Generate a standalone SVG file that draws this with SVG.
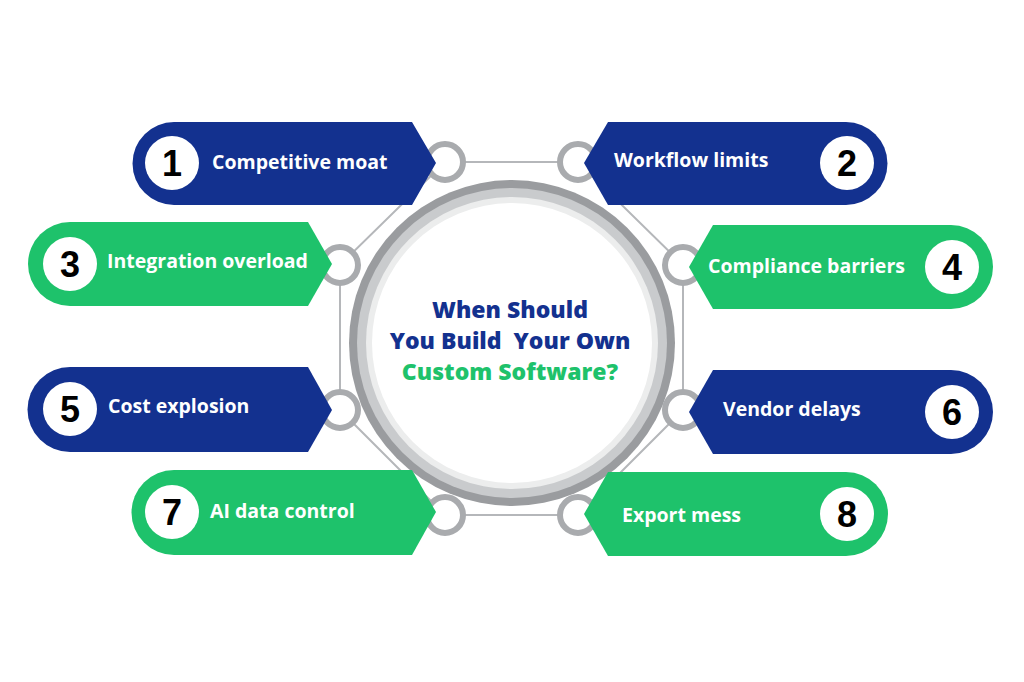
<svg xmlns="http://www.w3.org/2000/svg" width="1024" height="682" viewBox="0 0 1024 682">
<style>
.b{fill:#13318f}.g{fill:#1ec26b}
.lbl{font-family:"Open Sans","Liberation Sans",sans-serif;font-weight:700;font-size:19.5px;fill:#fff}
.num{font-family:"Liberation Sans",sans-serif;font-weight:700;font-size:36px;fill:#000;text-anchor:middle}
.nc{fill:#fff}
.knob{fill:#fff;stroke:#a9abae;stroke-width:6}
.ln{stroke:#b5b7ba;stroke-width:2;fill:none}
.t{font-family:"Open Sans","Liberation Sans",sans-serif;font-weight:800;font-size:23px;text-anchor:middle;white-space:pre}
</style>
<rect width="1024" height="682" fill="#fff"/>
<g id="connectors">
<polygon class="ln" points="445,162 578,162 683,265 683,410 578,515 445,515 340,410 340,265"/>
</g>
<g id="center">
<circle cx="512" cy="343" r="163" fill="#9a9c9f"/>
<circle cx="512" cy="343" r="155" fill="#c9cbcd"/>
<circle cx="512" cy="343" r="146" fill="#eceded"/>
<circle cx="512" cy="343" r="140" fill="#fff"/>
<text class="t" x="510" y="318" fill="#13318f">When Should</text>
<text class="t" x="510" y="349" fill="#13318f" xml:space="preserve">You Build  Your Own</text>
<text class="t" x="510" y="380" fill="#1ec26b">Custom Software?</text>
</g>
<g id="knobs">
<circle class="knob" cx="445" cy="162" r="18"/><circle class="knob" cx="578" cy="162" r="18"/>
<circle class="knob" cx="340" cy="265" r="18"/><circle class="knob" cx="683" cy="265" r="18"/>
<circle class="knob" cx="340" cy="410" r="18"/><circle class="knob" cx="683" cy="410" r="18"/>
<circle class="knob" cx="445" cy="515" r="18"/><circle class="knob" cx="578" cy="515" r="18"/>
</g>
<g id="n1"><path class="b" d="M174,122 H412 L436,163 L412,205 H174 A41.5,41.5 0 0 1 174,122 Z"/><circle class="nc" cx="172" cy="163" r="27"/><text class="num" x="172" y="176">1</text><text class="lbl" x="212" y="169">Competitive moat</text></g>
<g id="n2"><path class="b" d="M846,122 H608 L584,163 L608,205 H846 A41.5,41.5 0 0 0 846,122 Z"/><circle class="nc" cx="847" cy="163" r="27"/><text class="num" x="847" y="176">2</text><text class="lbl" x="614" y="167">Workflow limits</text></g>
<g id="n3"><path class="g" d="M70,222 H308 L332,264 L308,306 H70 A42,42 0 0 1 70,222 Z"/><circle class="nc" cx="70" cy="264" r="27"/><text class="num" x="70" y="277">3</text><text class="lbl" x="107" y="268">Integration overload</text></g>
<g id="n4"><path class="g" d="M951,225 H713 L689,267 L713,309 H951 A42,42 0 0 0 951,225 Z"/><circle class="nc" cx="952" cy="267" r="27"/><text class="num" x="952" y="280">4</text><text class="lbl" x="708" y="273">Compliance barriers</text></g>
<g id="n5"><path class="b" d="M70,367 H308 L332,410 L308,452 H70 A42.5,42.5 0 0 1 70,367 Z"/><circle class="nc" cx="70" cy="409" r="27"/><text class="num" x="70" y="422">5</text><text class="lbl" x="108" y="413">Cost explosion</text></g>
<g id="n6"><path class="b" d="M951,370 H713 L689,412 L713,454 H951 A42,42 0 0 0 951,370 Z"/><circle class="nc" cx="952" cy="412" r="27"/><text class="num" x="952" y="425">6</text><text class="lbl" x="723" y="416">Vendor delays</text></g>
<g id="n7"><path class="g" d="M174,470 H412 L436,512 L412,555 H174 A42.5,42.5 0 0 1 174,470 Z"/><circle class="nc" cx="172" cy="512" r="27"/><text class="num" x="172" y="525">7</text><text class="lbl" x="210" y="518">AI data control</text></g>
<g id="n8"><path class="g" d="M846,472 H608 L584,514 L608,556 H846 A42,42 0 0 0 846,472 Z"/><circle class="nc" cx="847" cy="514" r="27"/><text class="num" x="847" y="527">8</text><text class="lbl" x="622" y="522">Export mess</text></g>
</svg>
